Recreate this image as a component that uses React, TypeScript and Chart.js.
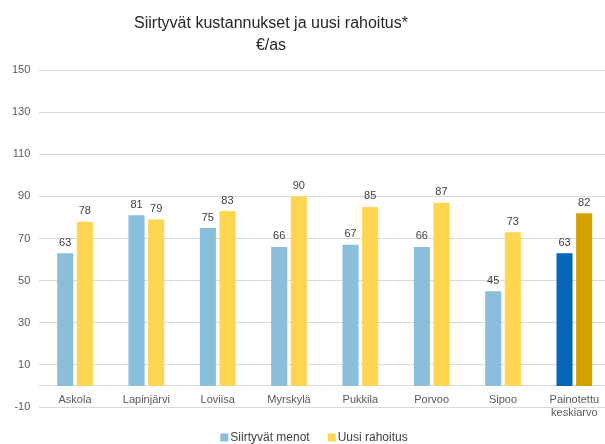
import React, { useEffect, useRef } from "react";
import { Chart, registerables } from "chart.js";

Chart.register(...registerables);

const categories: (string | string[])[] = [
  "Askola",
  "Lapinjärvi",
  "Loviisa",
  "Myrskylä",
  "Pukkila",
  "Porvoo",
  "Sipoo",
  ["Painotettu", "keskiarvo"],
];
const siirtyvatMenot = [63, 81, 75, 66, 67, 66, 45, 63];
const uusiRahoitus = [78, 79, 83, 90, 85, 87, 73, 82];
const titleLines = ["Siirtyvät kustannukset ja uusi rahoitus*", "€/as"];
const seriesNames = ["Siirtyvät menot", "Uusi rahoitus"];

const FONT = "'Liberation Sans', Arial, sans-serif";
const LIGHT_BLUE = "#8BBEDB";
const DARK_BLUE = "#0765BA";
const LIGHT_YELLOW = "#FFD652";
const DARK_GOLD = "#D2A300";

const valueLabels = {
  id: "valueLabels",
  afterDatasetsDraw(chart: any) {
    const ctx = chart.ctx;
    ctx.save();
    ctx.font = `11px ${FONT}`;
    ctx.fillStyle = "#404040";
    ctx.textAlign = "center";
    ctx.textBaseline = "bottom";
    chart.data.datasets.forEach((ds: any, di: number) => {
      const meta = chart.getDatasetMeta(di);
      meta.data.forEach((el: any, i: number) => {
        ctx.fillText(String(ds.data[i]), el.x, el.y - 5);
      });
    });
    ctx.restore();
  },
};

const titlePlugin = {
  id: "customTitle",
  afterDraw(chart: any) {
    const ctx = chart.ctx;
    ctx.save();
    ctx.font = `16px ${FONT}`;
    ctx.fillStyle = "#262626";
    ctx.textAlign = "center";
    ctx.textBaseline = "alphabetic";
    ctx.fillText(titleLines[0], 271, 28);
    ctx.fillText(titleLines[1], 271, 50);
    ctx.restore();
  },
};

const legendPlugin = {
  id: "customLegend",
  afterDraw(chart: any) {
    const ctx = chart.ctx;
    ctx.save();
    ctx.font = `12px ${FONT}`;
    ctx.textBaseline = "middle";
    ctx.textAlign = "left";
    const box = 8;
    const gapBoxText = 2;
    const gapItems = 18;
    const colors = [LIGHT_BLUE, LIGHT_YELLOW];
    const widths = seriesNames.map((n) => ctx.measureText(n).width);
    const total =
      widths.reduce((a: number, w: number) => a + w + box + gapBoxText, 0) +
      gapItems * (seriesNames.length - 1);
    let x = 314 - total / 2;
    const cy = 437.5;
    seriesNames.forEach((n, i) => {
      ctx.fillStyle = colors[i];
      ctx.fillRect(x, cy - box / 2, box, box);
      x += box + gapBoxText;
      ctx.fillStyle = "#404040";
      ctx.fillText(n, x, cy);
      x += widths[i] + gapItems;
    });
    ctx.restore();
  },
};

export default function App() {
  const ref = useRef<HTMLCanvasElement | null>(null);
  useEffect(() => {
    document.body.style.margin = "0";
    document.body.style.overflow = "hidden";
    document.documentElement.style.overflow = "hidden";
    const canvas = ref.current!;
    const chart = new Chart(canvas, {
      type: "bar",
      data: {
        labels: categories,
        datasets: [
          {
            label: seriesNames[0],
            data: siirtyvatMenot,
            backgroundColor: (c: any) =>
              c.dataIndex === siirtyvatMenot.length - 1 ? DARK_BLUE : LIGHT_BLUE,
            categoryPercentage: 0.55,
            barPercentage: 0.82,
          },
          {
            label: seriesNames[1],
            data: uusiRahoitus,
            backgroundColor: (c: any) =>
              c.dataIndex === uusiRahoitus.length - 1 ? DARK_GOLD : LIGHT_YELLOW,
            categoryPercentage: 0.55,
            barPercentage: 0.82,
          },
        ],
      },
      options: {
        responsive: false,
        animation: false,
        devicePixelRatio: 1,
        layout: { padding: { top: 70, left: 3, right: 0, bottom: 37 } },
        plugins: {
          title: { display: false },
          tooltip: { enabled: false },
          legend: { display: false },
        },
        scales: {
          x: {
            position: { y: 0 } as any,
            grid: { display: false, drawTicks: false },
            border: { display: true, color: "#d9d9d9", width: 1 },
            ticks: {
              color: "#595959",
              padding: 7,
              font: { family: FONT, size: 11 },
              maxRotation: 0,
              autoSkip: false,
            },
          },
          y: {
            min: -10,
            max: 150,
            ticks: {
              stepSize: 20,
              color: "#595959",
              padding: 9,
              font: { family: FONT, size: 11 },
            },
            grid: { color: "#d9d9d9", drawTicks: false, lineWidth: 1 },
            border: { display: false },
          },
        },
      },
      plugins: [valueLabels, titlePlugin, legendPlugin],
    } as any);
    return () => chart.destroy();
  }, []);
  return (
    <div style={{ width: 605, height: 444, overflow: "hidden" }}>
      <canvas ref={ref} width={610} height={444} />
    </div>
  );
}
